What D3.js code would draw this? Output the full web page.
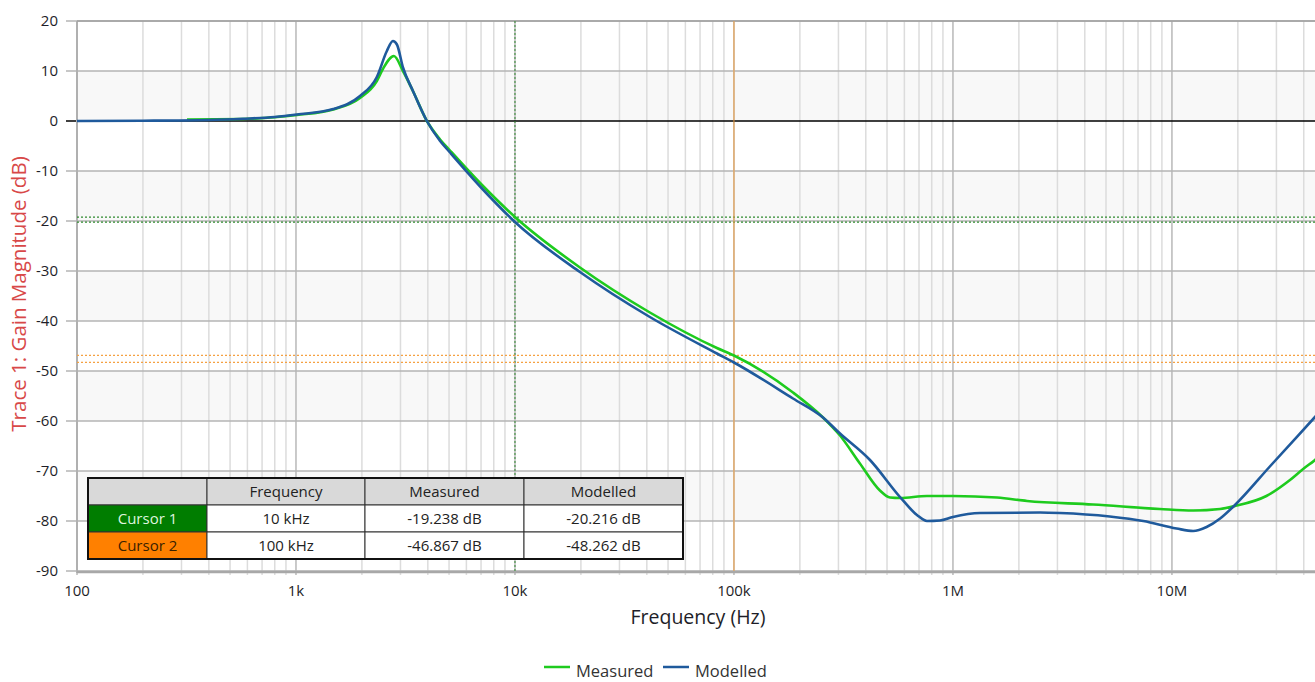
<html>
<head>
<meta charset="utf-8">
<script src="https://cdn.jsdelivr.net/npm/d3@7/dist/d3.min.js"></script>
<style>
  body { margin: 0; background: #fff; }
  svg { display: block; font-family: "Open Sans", "Noto Sans", sans-serif; }
  .tick-label { font-size: 15px; fill: #1e1e28; }
</style>
</head>
<body>
<svg id="chart" width="1315" height="682"></svg>
<script>
// modelled trace (Hz, dB)
var freqModelled = [100, 200, 400, 573, 800, 1010, 1480, 1960, 2340, 2600, 2770, 2890, 3080, 3420, 3960, 4550, 5050, 7000, 10000,
  19800, 41300, 83600, 100000, 186000, 255000, 305000, 418000, 573000, 685000, 761000, 873000, 1000000, 1330000, 2500000,
  3080000, 5200000, 7400000, 10500000, 12500000, 14400000, 16600000, 19400000, 28000000, 45000000, 50000000];
var gainModelled = [0, 0.05, 0.2, 0.45, 0.8, 1.3, 2.4, 5.0, 8.8, 14.0, 16.0, 15.3, 10.7, 6.0, 0, -4.0, -6.3, -13.3, -20.2,
  -30.2, -39.2, -46.5, -48.3, -55.5, -59.3, -62.5, -67.8, -75.2, -78.8, -80.0, -79.9, -79.2, -78.4, -78.3,
  -78.4, -79.1, -80.0, -81.5, -82.0, -81.2, -79.5, -76.8, -69.1, -59.2, -57.0];

// measured trace (Hz, dB)
var freqMeasured = [318, 573, 1010, 1480, 1960, 2340, 2500, 2800, 3080, 3420, 3960, 4550, 5050, 7000, 10000,
  19800, 41300, 83600, 100000, 186000, 255000, 305000, 376000, 464000, 516000, 573000, 761000, 1000000, 1590000,
  2180000, 4360000, 8800000, 12500000, 16600000, 19400000, 27000000, 34600000, 40000000, 45000000, 50000000];
var gainMeasured = [0.3, 0.4, 1.2, 2.3, 4.6, 8.0, 10.5, 13.0, 10.0, 6.0, 0, -3.7, -5.9, -12.6, -19.2,
  -29.3, -38.3, -45.4, -46.9, -54.3, -59.3, -62.9, -68.5, -73.9, -75.3, -75.4, -75.0, -75.0, -75.3,
  -76.0, -76.7, -77.6, -77.9, -77.6, -77.0, -75.0, -71.8, -69.5, -67.8, -66.0];

var yTicks = d3.range(-90, 21, 10);
var xTickValues = [1e2, 1e3, 1e4, 1e5, 1e6, 1e7];
var xTickLabels = ["100", "1k", "10k", "100k", "1M", "10M"];

// cursors
var cursorNames = ["Cursor 1", "Cursor 2"];
var cursorFreq = [10000, 100000];
var cursorFreqLabels = ["10 kHz", "100 kHz"];
var cursorMeasured = [-19.238, -46.867];
var cursorModelled = [-20.216, -48.262];
var tableHeader = ["", "Frequency", "Measured", "Modelled"];

var seriesNames = ["Measured", "Modelled"];
var seriesColors = ["#1ecb1e", "#1f5a9c"];
var cursorColors = ["#2f8a2f", "#f5a142"];
var cursorFills = ["#007d00", "#ff8000"];
var cursorText = ["#dff5df", "#3a2200"];

var svg = d3.select("#chart");
var pLeft = 77, pTop = 21, pBottom = 571, pRight = 1325, W = 1315;

var x = d3.scaleLog().domain([100, 5e7]).range([pLeft, pRight]);
var y = d3.scaleLinear().domain([-90, 20]).range([pBottom, pTop]);

var plot = svg.append("g");

// alternating bands (0..10, -20..-10, ...)
var bands = d3.range(-90, 20, 10).filter(function (v) { return ((v + 90) / 10) % 2 == 1; });
plot.selectAll(".band").data(bands).enter().append("rect")
  .attr("x", pLeft).attr("width", W - pLeft)
  .attr("y", function (d) { return y(d + 10); })
  .attr("height", function (d) { return y(d) - y(d + 10); })
  .attr("fill", "#f8f8f8");

// vertical grid
var minor = x.ticks().filter(function (d) { return xTickValues.indexOf(d) < 0; });
plot.selectAll(".minor").data(minor).enter().append("line")
  .attr("x1", function (d) { return x(d); }).attr("x2", function (d) { return x(d); })
  .attr("y1", pTop).attr("y2", pBottom + 4)
  .attr("stroke", "#dcdcdc").attr("stroke-width", 1.5);
plot.selectAll(".major").data(xTickValues).enter().append("line")
  .attr("x1", function (d) { return x(d); }).attr("x2", function (d) { return x(d); })
  .attr("y1", pTop).attr("y2", pBottom + 4)
  .attr("stroke", "#b8b8b8").attr("stroke-width", 1.5);

// horizontal grid
plot.selectAll(".hgrid").data(yTicks).enter().append("line")
  .attr("x1", pLeft - 11).attr("x2", W)
  .attr("y1", function (d) { return y(d); }).attr("y2", function (d) { return y(d); })
  .attr("stroke", function (d) { return d == 0 ? "#000" : "#b4b4b4"; })
  .attr("stroke-width", function (d) { return d == 0 ? 1.3 : 1.5; });

// frame
plot.append("line").attr("x1", pLeft).attr("x2", pLeft).attr("y1", pTop).attr("y2", pBottom + 2)
  .attr("stroke", "#b0b0b0").attr("stroke-width", 2);
plot.append("line").attr("x1", pLeft).attr("x2", W).attr("y1", pTop).attr("y2", pTop)
  .attr("stroke", "#a0a0a0").attr("stroke-width", 1.5);
plot.append("line").attr("x1", pLeft).attr("x2", W).attr("y1", pBottom + 1).attr("y2", pBottom + 1)
  .attr("stroke", "#a8a8a8").attr("stroke-width", 2.5);

// y tick labels
svg.selectAll(".ylab").data(yTicks).enter().append("text")
  .attr("class", "tick-label")
  .attr("x", 58).attr("y", function (d) { return y(d); })
  .attr("dy", "0.35em").attr("text-anchor", "end")
  .text(function (d) { return d; });

// x tick labels
svg.selectAll(".xlab").data(xTickValues).enter().append("text")
  .attr("class", "tick-label")
  .attr("x", function (d) { return x(d); }).attr("y", 596)
  .attr("text-anchor", "middle")
  .text(function (d, i) { return xTickLabels[i]; });

// cursor lines
cursorFreq.forEach(function (f, i) {
  plot.append("line")
    .attr("x1", x(f)).attr("x2", x(f)).attr("y1", pTop).attr("y2", pBottom)
    .attr("stroke", cursorColors[i]).attr("stroke-width", 1)
    .attr("stroke-dasharray", i == 0 ? "2,2" : null);
  [cursorMeasured[i], cursorModelled[i]].forEach(function (v) {
    plot.append("line")
      .attr("x1", pLeft).attr("x2", W).attr("y1", y(v)).attr("y2", y(v))
      .attr("stroke", cursorColors[i]).attr("stroke-width", 1.2)
      .attr("stroke-dasharray", "2,2");
  });
});

// traces
var line = d3.line()
  .x(function (d) { return x(d[0]); })
  .y(function (d) { return y(d[1]); })
  .curve(d3.curveMonotoneX);

plot.append("path")
  .datum(d3.zip(freqMeasured, gainMeasured))
  .attr("fill", "none").attr("stroke", seriesColors[0]).attr("stroke-width", 2.6)
  .attr("d", line);
plot.append("path")
  .datum(d3.zip(freqModelled, gainModelled))
  .attr("fill", "none").attr("stroke", seriesColors[1]).attr("stroke-width", 2.6)
  .attr("d", line);

// cursor table
var colX = [88, 207, 365, 524, 683];
var rowY = [478, 505, 532, 559];
var tbl = svg.append("g").style("font-size", "15px");
var rows = [tableHeader];
cursorNames.forEach(function (n, i) {
  rows.push([n, cursorFreqLabels[i], cursorMeasured[i].toFixed(3) + " dB", cursorModelled[i].toFixed(3) + " dB"]);
});
rows.forEach(function (r, ri) {
  r.forEach(function (c, ci) {
    var fill = "#fff", col = "#222";
    if (ri == 0) fill = "#d9d9d9";
    else if (ci == 0) { fill = cursorFills[ri - 1]; col = cursorText[ri - 1]; }
    tbl.append("rect")
      .attr("x", colX[ci]).attr("y", rowY[ri])
      .attr("width", colX[ci + 1] - colX[ci]).attr("height", rowY[ri + 1] - rowY[ri])
      .attr("fill", fill).attr("stroke", "#333").attr("stroke-width", 1);
    tbl.append("text")
      .attr("x", (colX[ci] + colX[ci + 1]) / 2).attr("y", (rowY[ri] + rowY[ri + 1]) / 2)
      .attr("dy", "0.35em").attr("text-anchor", "middle")
      .attr("fill", col).text(c);
  });
});
tbl.append("rect")
  .attr("x", colX[0]).attr("y", rowY[0])
  .attr("width", colX[4] - colX[0]).attr("height", rowY[3] - rowY[0])
  .attr("fill", "none").attr("stroke", "#111").attr("stroke-width", 2);

// axis titles
svg.append("text")
  .attr("x", 698).attr("y", 624).attr("text-anchor", "middle")
  .style("font-size", "19.5px").attr("fill", "#1e1e28")
  .text("Frequency (Hz)");
svg.append("text")
  .attr("transform", "translate(26," + 294 + ") rotate(-90)")
  .attr("text-anchor", "middle")
  .style("font-size", "20.5px").attr("fill", "#d84848")
  .text("Trace 1: Gain Magnitude (dB)");

// legend
var legX = [544, 663];
seriesNames.forEach(function (n, i) {
  svg.append("line")
    .attr("x1", legX[i]).attr("x2", legX[i] + 26).attr("y1", 667).attr("y2", 667)
    .attr("stroke", seriesColors[i]).attr("stroke-width", 2.5);
  svg.append("text")
    .attr("x", legX[i] + 32).attr("y", 677)
    .style("font-size", "16.5px").attr("fill", "#333")
    .text(n);
});
</script>
</body>
</html>
